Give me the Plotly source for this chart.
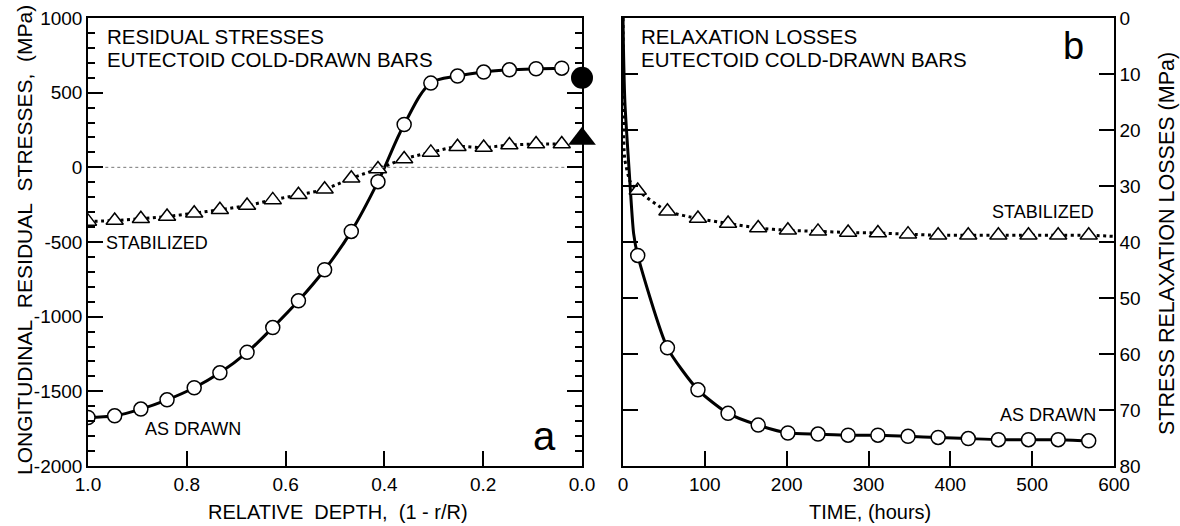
import plotly.graph_objects as go

W, H = 1180, 526

# ---------------- Panel a data ----------------
depth = [1.0, 0.946, 0.893, 0.84, 0.785, 0.733, 0.678, 0.626, 0.574, 0.521,
         0.467, 0.413, 0.36, 0.306, 0.252, 0.199, 0.147, 0.093, 0.041]
as_drawn_stress = [-1675, -1664, -1619, -1557, -1476, -1376, -1239, -1073, -894, -686,
                   -429, -96, 287, 564, 611, 638, 653, 660, 664]
stabilized_stress = [-362, -356, -344, -329, -307, -284, -256, -218, -184, -147,
                     -73, -11, 56, 100, 138, 133, 149, 156, 156]
surface_depth = [0.0]
surface_as_drawn = [600]
surface_stabilized = [192]

# ---------------- Panel b data ----------------
time_h = [18, 54.3, 91.6, 128.4, 165.2, 201.5, 238.3, 275.1, 311.5, 348.3,
          385.1, 421.9, 458.7, 495.5, 531.8, 569.1]
as_drawn_loss = [42.4, 58.9, 66.4, 70.6, 72.7, 74.1, 74.3, 74.5, 74.5, 74.7,
                 74.9, 75.1, 75.3, 75.3, 75.3, 75.5]
stabilized_loss = [30.8, 34.5, 35.8, 36.7, 37.5, 37.9, 38.1, 38.3, 38.4, 38.6,
                   38.8, 38.8, 38.8, 38.8, 38.8, 38.8]
# early-time parts of the curves (no markers)
as_drawn_early_t = [0, 0.5, 2.3, 7.4, 13]
as_drawn_early_v = [0, 5, 15, 27, 38.5]
stabilized_early_t = [0, 0.3, 2, 9]
stabilized_early_v = [0, 10, 25, 29.3]
stabilized_tail_t = [600]
stabilized_tail_v = [39.0]

x_ticks_a = [1.0, 0.8, 0.6, 0.4, 0.2, 0.0]
x_ticktext_a = ["1.0", "0.8", "0.6", "0.4", "0.2", "0.0"]
y_ticks_a = [1000, 500, 0, -500, -1000, -1500, -2000]
y_ticktext_a = ["1000", "500", "0", "-500", "-1000", "-1500", "-2000"]
x_ticks_b = [0, 100, 200, 300, 400, 500, 600]
y_ticks_b = [0, 10, 20, 30, 40, 50, 60, 70, 80]

FONT = "Liberation Sans, Arial, Helvetica, sans-serif"


def px(x):
    return x / W


def py(y):
    return 1 - y / H


fig = go.Figure()

line_black = dict(color="black", width=3)
dot_black = dict(color="black", width=3, dash="3px,3.5px")
open_circle = dict(symbol="circle", size=14, color="white", line=dict(color="black", width=1.5))
open_tri = dict(symbol="triangle-up", size=15, color="white", line=dict(color="black", width=1.5))

# Panel a
fig.add_trace(go.Scatter(x=depth, y=stabilized_stress, mode="lines", line=dot_black,
                         line_shape="spline", xaxis="x", yaxis="y", hoverinfo="skip"))
fig.add_trace(go.Scatter(x=depth, y=as_drawn_stress, mode="lines", line=line_black,
                         line_shape="spline", xaxis="x", yaxis="y", hoverinfo="skip"))
fig.add_trace(go.Scatter(x=depth, y=stabilized_stress, mode="markers", marker=open_tri,
                         xaxis="x", yaxis="y"))
fig.add_trace(go.Scatter(x=depth, y=as_drawn_stress, mode="markers", marker=open_circle,
                         xaxis="x", yaxis="y"))
fig.add_trace(go.Scatter(x=surface_depth, y=surface_as_drawn, mode="markers",
                         marker=dict(symbol="circle", size=22, color="black"),
                         cliponaxis=False, xaxis="x", yaxis="y"))
fig.add_trace(go.Scatter(x=surface_depth, y=surface_stabilized, mode="markers",
                         marker=dict(symbol="triangle-up", size=24, color="black"),
                         cliponaxis=False, xaxis="x", yaxis="y"))

# Panel b
fig.add_trace(go.Scatter(x=stabilized_early_t + time_h + stabilized_tail_t,
                         y=stabilized_early_v + stabilized_loss + stabilized_tail_v,
                         mode="lines", line=dot_black, line_shape="spline",
                         line_smoothing=0.6, xaxis="x2", yaxis="y2", hoverinfo="skip"))
fig.add_trace(go.Scatter(x=as_drawn_early_t + time_h, y=as_drawn_early_v + as_drawn_loss,
                         mode="lines", line=line_black, line_shape="spline",
                         line_smoothing=0.6, xaxis="x2", yaxis="y2", hoverinfo="skip"))
fig.add_trace(go.Scatter(x=time_h, y=stabilized_loss, mode="markers", marker=open_tri,
                         xaxis="x2", yaxis="y2"))
fig.add_trace(go.Scatter(x=time_h, y=as_drawn_loss, mode="markers", marker=open_circle,
                         xaxis="x2", yaxis="y2"))

axis_common = dict(showgrid=False, zeroline=False, showline=True, linecolor="black",
                   linewidth=1.5, ticks="inside", ticklen=15, tickwidth=1.5,
                   tickcolor="black", automargin=False,
                   tickfont=dict(family=FONT, size=19, color="black"))

dom_y = [py(466), py(18)]

fig.update_layout(
    width=W, height=H,
    margin=dict(l=0, r=0, t=0, b=0),
    paper_bgcolor="white", plot_bgcolor="white",
    showlegend=False,
    font=dict(family=FONT, color="black"),
    xaxis=dict(axis_common, domain=[px(88), px(582)], range=[1.0, 0.0],
               tickvals=x_ticks_a, ticktext=x_ticktext_a, mirror=True, anchor="y"),
    yaxis=dict(axis_common, domain=dom_y, range=[-2000, 1000],
               tickvals=y_ticks_a, ticktext=y_ticktext_a, mirror="ticks", anchor="x",
               minor=dict(dtick=100, ticks="inside", ticklen=7, tickwidth=1.5,
                          tickcolor="black")),
    xaxis2=dict(axis_common, domain=[px(623), px(1114)], range=[0, 600],
                tickvals=x_ticks_b, mirror=True, anchor="y2"),
    yaxis2=dict(axis_common, domain=dom_y, range=[80, 0], tickvals=y_ticks_b,
                side="right", mirror="ticks", anchor="x2"),
)

# zero reference line in panel a
fig.add_shape(type="line", xref="x domain", yref="y", x0=0.035, x1=0.967, y0=0, y1=0,
              line=dict(color="#777777", width=1, dash="dot"))


def ann(text, x, y, size, xanchor="left", yanchor="middle", angle=0):
    fig.add_annotation(text=text, x=px(x), y=py(y), xref="paper", yref="paper",
                       xanchor=xanchor, yanchor=yanchor, showarrow=False, textangle=angle,
                       font=dict(family=FONT, size=size, color="black"))


ann("RESIDUAL STRESSES", 105, 37, 20.5)
ann("EUTECTOID COLD-DRAWN BARS", 105, 59, 20.5)
ann("STABILIZED", 104, 243, 18)
ann("AS DRAWN", 143, 429, 18)
ann("a", 544, 436, 40, xanchor="center")

ann("RELAXATION LOSSES", 639, 37, 20.5)
ann("EUTECTOID COLD-DRAWN BARS", 639, 59, 20.5)
ann("STABILIZED", 1096, 212, 18, xanchor="right")
ann("AS DRAWN", 1098, 415, 18, xanchor="right")
ann("b", 1073, 46, 38, xanchor="center")

ann("RELATIVE&nbsp;&nbsp;DEPTH,&nbsp;&nbsp;(1 - r/R)", 338, 512, 20, xanchor="center")
ann("TIME, (hours)", 870, 512, 20, xanchor="center")
ann("LONGITUDINAL&nbsp;&nbsp;RESIDUAL&nbsp;&nbsp;STRESSES,&nbsp;&nbsp;(MPa)", 24, 240, 21,
    xanchor="center", angle=-90)
ann("STRESS RELAXATION LOSSES (MPa)", 1167, 244, 21.5, xanchor="center", angle=-90)

fig.write_html(
    "out.html",
    config={"displayModeBar": False},
    post_script="document.body.style.margin='0';document.body.style.overflow='hidden';",
)
